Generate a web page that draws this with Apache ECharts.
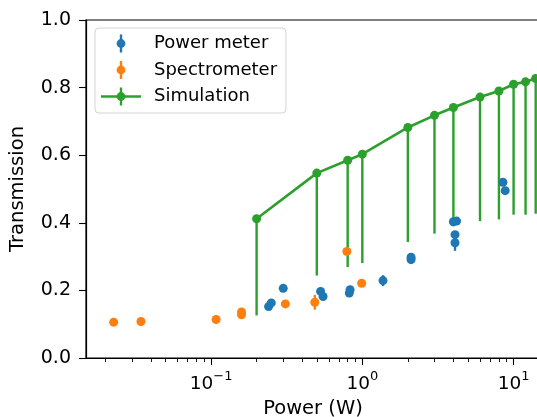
<!DOCTYPE html>
<html>
<head>
<meta charset="utf-8">
<script src="https://cdn.jsdelivr.net/npm/echarts@6.0.0/dist/echarts.min.js"></script>
<style>
  html, body { margin: 0; padding: 0; background: #fff; }
  #chart { width: 537px; height: 417px; }
</style>
</head>
<body>
<div id="chart"></div>
<script>
// values
const powerX = [0.24, 0.25, 0.30, 0.53, 0.55, 0.82, 0.83, 1.37, 2.1, 2.1, 4.0, 4.2, 4.1, 4.1, 8.5, 8.8]
const powerY = [0.152, 0.163, 0.206, 0.197, 0.182, 0.192, 0.202, 0.229, 0.298, 0.291, 0.403, 0.405, 0.365, 0.341, 0.520, 0.495]
const powerErr = [0.006, 0.006, 0.008, 0.006, 0.006, 0.006, 0.006, 0.016, 0.006, 0.006, 0.008, 0.008, 0.01, 0.024, 0.008, 0.008]

const specX = [0.0227, 0.0344, 0.108, 0.159, 0.159, 0.31, 0.485, 0.79, 0.99]
const specY = [0.106, 0.108, 0.114, 0.136, 0.128, 0.160, 0.165, 0.315, 0.221]
const specErr = [0.005, 0.005, 0.005, 0.006, 0.006, 0.006, 0.022, 0.006, 0.006]

const simX = [0.2, 0.5, 0.8, 1, 2, 3, 4, 6, 8, 10, 12, 14]
const simY = [0.412, 0.547, 0.585, 0.603, 0.682, 0.718, 0.741, 0.772, 0.790, 0.810, 0.817, 0.827]
const simErrDown = [0.286, 0.303, 0.316, 0.322, 0.339, 0.35, 0.351, 0.367, 0.380, 0.386, 0.393, 0.400]

const majorTicks = [0.1, 1, 10]
const minorTicks = [0.02, 0.03, 0.04, 0.05, 0.06, 0.07, 0.08, 0.09,
  0.2, 0.3, 0.4, 0.5, 0.6, 0.7, 0.8, 0.9,
  2, 3, 4, 5, 6, 7, 8, 9]

const BLUE = '#1f77b4'
const ORANGE = '#ff7f0e'
const GREEN = '#2ca02c'
const FONT = 'DejaVu Sans'

const chart = echarts.init(document.getElementById('chart'), null, { renderer: 'canvas' })

function errorBar(color, width) {
  return function (params, api) {
    const x = api.value(0)
    const hi = api.coord([x, api.value(1)])
    const lo = api.coord([x, api.value(2)])
    return {
      type: 'line',
      shape: { x1: hi[0], y1: hi[1], x2: lo[0], y2: lo[1] },
      style: { stroke: color, lineWidth: width },
    }
  }
}

const zip = (xs, ys) => xs.map((x, i) => [x, ys[i]])
const bars = (xs, ys, up, down) => xs.map((x, i) => [x, ys[i] + up[i], ys[i] - down[i]])

const expLabel = (v) => {
  const e = Math.round(Math.log10(v))
  return '{b|10}{s|' + (e < 0 ? '\u2212' + (-e) : e) + '}'
}

const legendTop = 28
const legendItems = [
  { label: 'Power meter', color: BLUE, line: false, y: 43.5 },
  { label: 'Spectrometer', color: ORANGE, line: false, y: 70 },
  { label: 'Simulation', color: GREEN, line: true, y: 96.5 },
]
const legendGraphics = [{
  type: 'rect',
  shape: { x: 95, y: legendTop, width: 191, height: 85, r: 4 },
  style: { fill: 'rgba(255,255,255,0.8)', stroke: '#d4d4d4', lineWidth: 1 },
  z: 100,
}]
legendItems.forEach((it) => {
  if (it.line) {
    legendGraphics.push({
      type: 'line', z: 101,
      shape: { x1: 101, y1: it.y, x2: 141, y2: it.y },
      style: { stroke: it.color, lineWidth: 2.6 },
    })
  }
  legendGraphics.push({
    type: 'line', z: 101,
    shape: { x1: 121, y1: it.y - 9, x2: 121, y2: it.y + 9 },
    style: { stroke: it.color, lineWidth: 2.4 },
  })
  legendGraphics.push({
    type: 'circle', z: 102,
    shape: { cx: 121, cy: it.y, r: 4.4 },
    style: { fill: it.color },
  })
  legendGraphics.push({
    type: 'text', z: 102,
    x: 154, y: it.y,
    style: { text: it.label, fill: '#000', font: '18px "' + FONT + '"', verticalAlign: 'middle' },
  })
})

const option = {
  animation: false,
  backgroundColor: '#fff',
  textStyle: { fontFamily: FONT },
  grid: {
    left: 86, right: -3, top: 20, bottom: 59,
    outerBoundsMode: 'none',
    containLabel: false,
    show: true, borderColor: '#000', borderWidth: 1.2, backgroundColor: 'transparent',
  },
  xAxis: [
    {
      type: 'log',
      min: 0.0149,
      max: 14.95,
      name: 'Power (W)',
      nameLocation: 'middle',
      nameGap: 40,
      nameTextStyle: { fontSize: 19.5, color: '#000', fontFamily: FONT },
      axisLine: { show: true, lineStyle: { color: '#000', width: 1.2 } },
      axisTick: { show: true, length: 7, customValues: majorTicks, lineStyle: { color: '#000', width: 1.1 } },
      axisLabel: {
        customValues: majorTicks,
        margin: 12,
        color: '#000',
        formatter: expLabel,
        rich: {
          b: { fontSize: 18.5, fontFamily: FONT, color: '#000', lineHeight: 24, verticalAlign: 'bottom' },
          s: { fontSize: 13, fontFamily: FONT, color: '#000', lineHeight: 14, verticalAlign: 'top' },
        },
      },
      splitLine: { show: false },
      minorTick: { show: false },
    },
    {
      type: 'log',
      min: 0.0149,
      max: 14.95,
      position: 'bottom',
      axisLine: { show: false },
      axisTick: { show: true, length: 4, customValues: minorTicks, lineStyle: { color: '#000', width: 0.9 } },
      axisLabel: { show: false },
      splitLine: { show: false },
    },
  ],
  yAxis: {
    type: 'value',
    min: 0,
    max: 1,
    interval: 0.2,
    name: 'Transmission',
    nameLocation: 'middle',
    nameGap: 58,
    nameRotate: 90,
    nameTextStyle: { fontSize: 19.5, color: '#000', fontFamily: FONT },
    axisLine: { show: true, lineStyle: { color: '#000', width: 1.2 } },
    axisTick: { show: true, length: 7, lineStyle: { color: '#000', width: 1.1 } },
    axisLabel: {
      margin: 15,
      fontSize: 19,
      color: '#000',
      fontFamily: FONT,
      formatter: (v) => v.toFixed(1),
    },
    splitLine: { show: false },
  },
  graphic: legendGraphics,
  series: [
    {
      name: 'Simulation',
      type: 'custom',
      renderItem: errorBar(GREEN, 2.4),
      data: bars(simX, simY, simX.map(() => 0), simErrDown),
      encode: { x: 0, y: [1, 2] },
      clip: true,
      z: 1,
    },
    {
      name: 'Simulation',
      type: 'line',
      data: zip(simX, simY),
      symbol: 'circle',
      symbolSize: 9,
      showSymbol: true,
      lineStyle: { color: GREEN, width: 2.6 },
      itemStyle: { color: GREEN },
      clip: true,
      z: 2,
    },
    {
      name: 'Power meter',
      type: 'custom',
      renderItem: errorBar(BLUE, 2.4),
      data: bars(powerX, powerY, powerErr, powerErr),
      encode: { x: 0, y: [1, 2] },
      z: 3,
    },
    {
      name: 'Power meter',
      type: 'scatter',
      data: zip(powerX, powerY),
      symbol: 'circle',
      symbolSize: 9,
      itemStyle: { color: BLUE, opacity: 1 },
      z: 4,
    },
    {
      name: 'Spectrometer',
      type: 'custom',
      renderItem: errorBar(ORANGE, 2.4),
      data: bars(specX, specY, specErr, specErr),
      encode: { x: 0, y: [1, 2] },
      z: 5,
    },
    {
      name: 'Spectrometer',
      type: 'scatter',
      data: zip(specX, specY),
      symbol: 'circle',
      symbolSize: 9,
      itemStyle: { color: ORANGE, opacity: 1 },
      z: 6,
    },
  ],
}

chart.setOption(option)
</script>
</body>
</html>
